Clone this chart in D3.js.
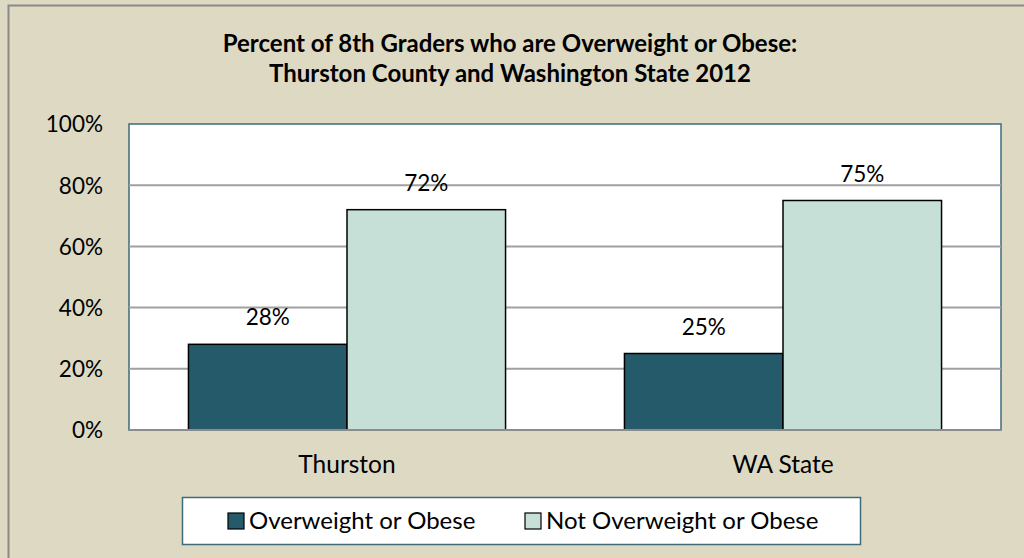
<!DOCTYPE html>
<html lang="en">
<head>
<meta charset="utf-8">
<title>8th Graders Overweight or Obese</title>
<script src="https://d3js.org/d3.v7.min.js"></script>
<style>
  body { margin: 0; background: #ddd9c3; }
  text { font-family: Lato, "Open Sans", sans-serif; fill: #000; }
</style>
</head>
<body>
<script>
var w = 1024, h = 558;

// data
var categories = ["Thurston", "WA State"];
var seriesNames = ["Overweight or Obese", "Not Overweight or Obese"];
var overweight = [0.28, 0.25];
var notOverweight = [0.72, 0.75];
var yTicks = [0, 0.2, 0.4, 0.6, 0.8, 1.0];
var titleLines = ["Percent of 8th Graders who are Overweight or Obese:",
                  "Thurston County and Washington State 2012"];
var colors = ["#245a69", "#c6e0d7"];

var rows = categories.map(function(c, i) {
  return { cat: c, values: [overweight[i], notOverweight[i]] };
});

var plot = { left: 129, top: 124, right: 1001, bottom: 430 };

var svg = d3.select("body").append("svg")
  .attr("width", w)
  .attr("height", h);

svg.append("rect")
  .attr("width", w).attr("height", h)
  .attr("fill", "#ddd9c3");

// outer chart border (runs off the right / bottom edge)
svg.append("rect")
  .attr("x", 8.5).attr("y", 5.5)
  .attr("width", w + 20).attr("height", h + 20)
  .attr("fill", "none")
  .attr("stroke", "#8a8a8a")
  .attr("stroke-width", 2);

// title
svg.append("g").selectAll("text")
  .data(titleLines)
  .enter().append("text")
  .attr("x", 510)
  .attr("y", function(d, i) { return 52 + i * 30; })
  .attr("text-anchor", "middle")
  .attr("font-weight", "bold")
  .attr("font-size", "24px")
  .text(function(d) { return d; });

var y = d3.scaleLinear().domain([0, 1]).range([plot.bottom, plot.top]);
var x0 = d3.scaleBand().domain(categories).range([plot.left, plot.right]);
var x1 = d3.scaleBand().domain(seriesNames).range([0, x0.bandwidth()])
  .paddingInner(0).paddingOuter(0.375);

// plot area
svg.append("rect")
  .attr("x", plot.left).attr("y", plot.top)
  .attr("width", plot.right - plot.left).attr("height", plot.bottom - plot.top)
  .attr("fill", "#fff")
  .attr("stroke", "#3f6b7a")
  .attr("stroke-width", 1.5);

// gridlines
svg.append("g").selectAll("line")
  .data(yTicks.slice(1, -1))
  .enter().append("line")
  .attr("x1", plot.left).attr("x2", plot.right)
  .attr("y1", function(d) { return y(d); })
  .attr("y2", function(d) { return y(d); })
  .attr("stroke", "#a0a0a0")
  .attr("stroke-width", 2);

// y axis labels
var yAxis = d3.axisLeft(y).tickValues(yTicks).tickFormat(d3.format(".0%")).tickSize(0).tickPadding(26);
var ya = svg.append("g").attr("transform", "translate(" + plot.left + ",0)").call(yAxis);
ya.select(".domain").remove();
ya.selectAll("text").attr("font-size", "22.5px").attr("font-family", "Lato, sans-serif").attr("dy", "0.35em");

// bars
var groups = svg.append("g").selectAll("g")
  .data(rows)
  .enter().append("g")
  .attr("transform", function(d) { return "translate(" + x0(d.cat) + ",0)"; });

groups.selectAll("rect")
  .data(function(d) { return d.values.map(function(v, i) { return { key: seriesNames[i], v: v, i: i }; }); })
  .enter().append("rect")
  .attr("x", function(d) { return x1(d.key); })
  .attr("y", function(d) { return y(d.v); })
  .attr("width", x1.bandwidth())
  .attr("height", function(d) { return y(0) - y(d.v); })
  .attr("fill", function(d) { return colors[d.i]; })
  .attr("stroke", "#000")
  .attr("stroke-width", 1.5);

groups.selectAll("text.lbl")
  .data(function(d) { return d.values.map(function(v, i) { return { key: seriesNames[i], v: v }; }); })
  .enter().append("text")
  .attr("class", "lbl")
  .attr("x", function(d) { return x1(d.key) + x1.bandwidth() / 2; })
  .attr("y", function(d) { return y(d.v) - 19; })
  .attr("text-anchor", "middle")
  .attr("font-size", "22.5px")
  .text(function(d) { return d3.format(".0%")(d.v); });

// bottom axis line
svg.append("line")
  .attr("x1", plot.left).attr("x2", plot.right)
  .attr("y1", plot.bottom).attr("y2", plot.bottom)
  .attr("stroke", "#8c8c8c")
  .attr("stroke-width", 2);

// category labels
svg.append("g").selectAll("text")
  .data(categories)
  .enter().append("text")
  .attr("x", function(d) { return x0(d) + x0.bandwidth() / 2; })
  .attr("y", 473)
  .attr("text-anchor", "middle")
  .attr("font-size", "24.5px")
  .text(function(d) { return d; });

// legend
var legend = svg.append("g");
legend.append("rect")
  .attr("x", 182.5).attr("y", 497.5)
  .attr("width", 678).attr("height", 47)
  .attr("fill", "#fff")
  .attr("stroke", "#3f6b7a")
  .attr("stroke-width", 1.5);

var legendX = [228, 525];
var items = legend.selectAll("g.item")
  .data(seriesNames)
  .enter().append("g")
  .attr("class", "item")
  .attr("transform", function(d, i) { return "translate(" + legendX[i] + ",513)"; });

items.append("rect")
  .attr("width", 16).attr("height", 16)
  .attr("fill", function(d, i) { return colors[i]; })
  .attr("stroke", "#000")
  .attr("stroke-width", 1.2);

items.append("text")
  .attr("x", 21)
  .attr("y", 16)
  .attr("font-size", "24px")
  .text(function(d) { return d; });
</script>
</body>
</html>
